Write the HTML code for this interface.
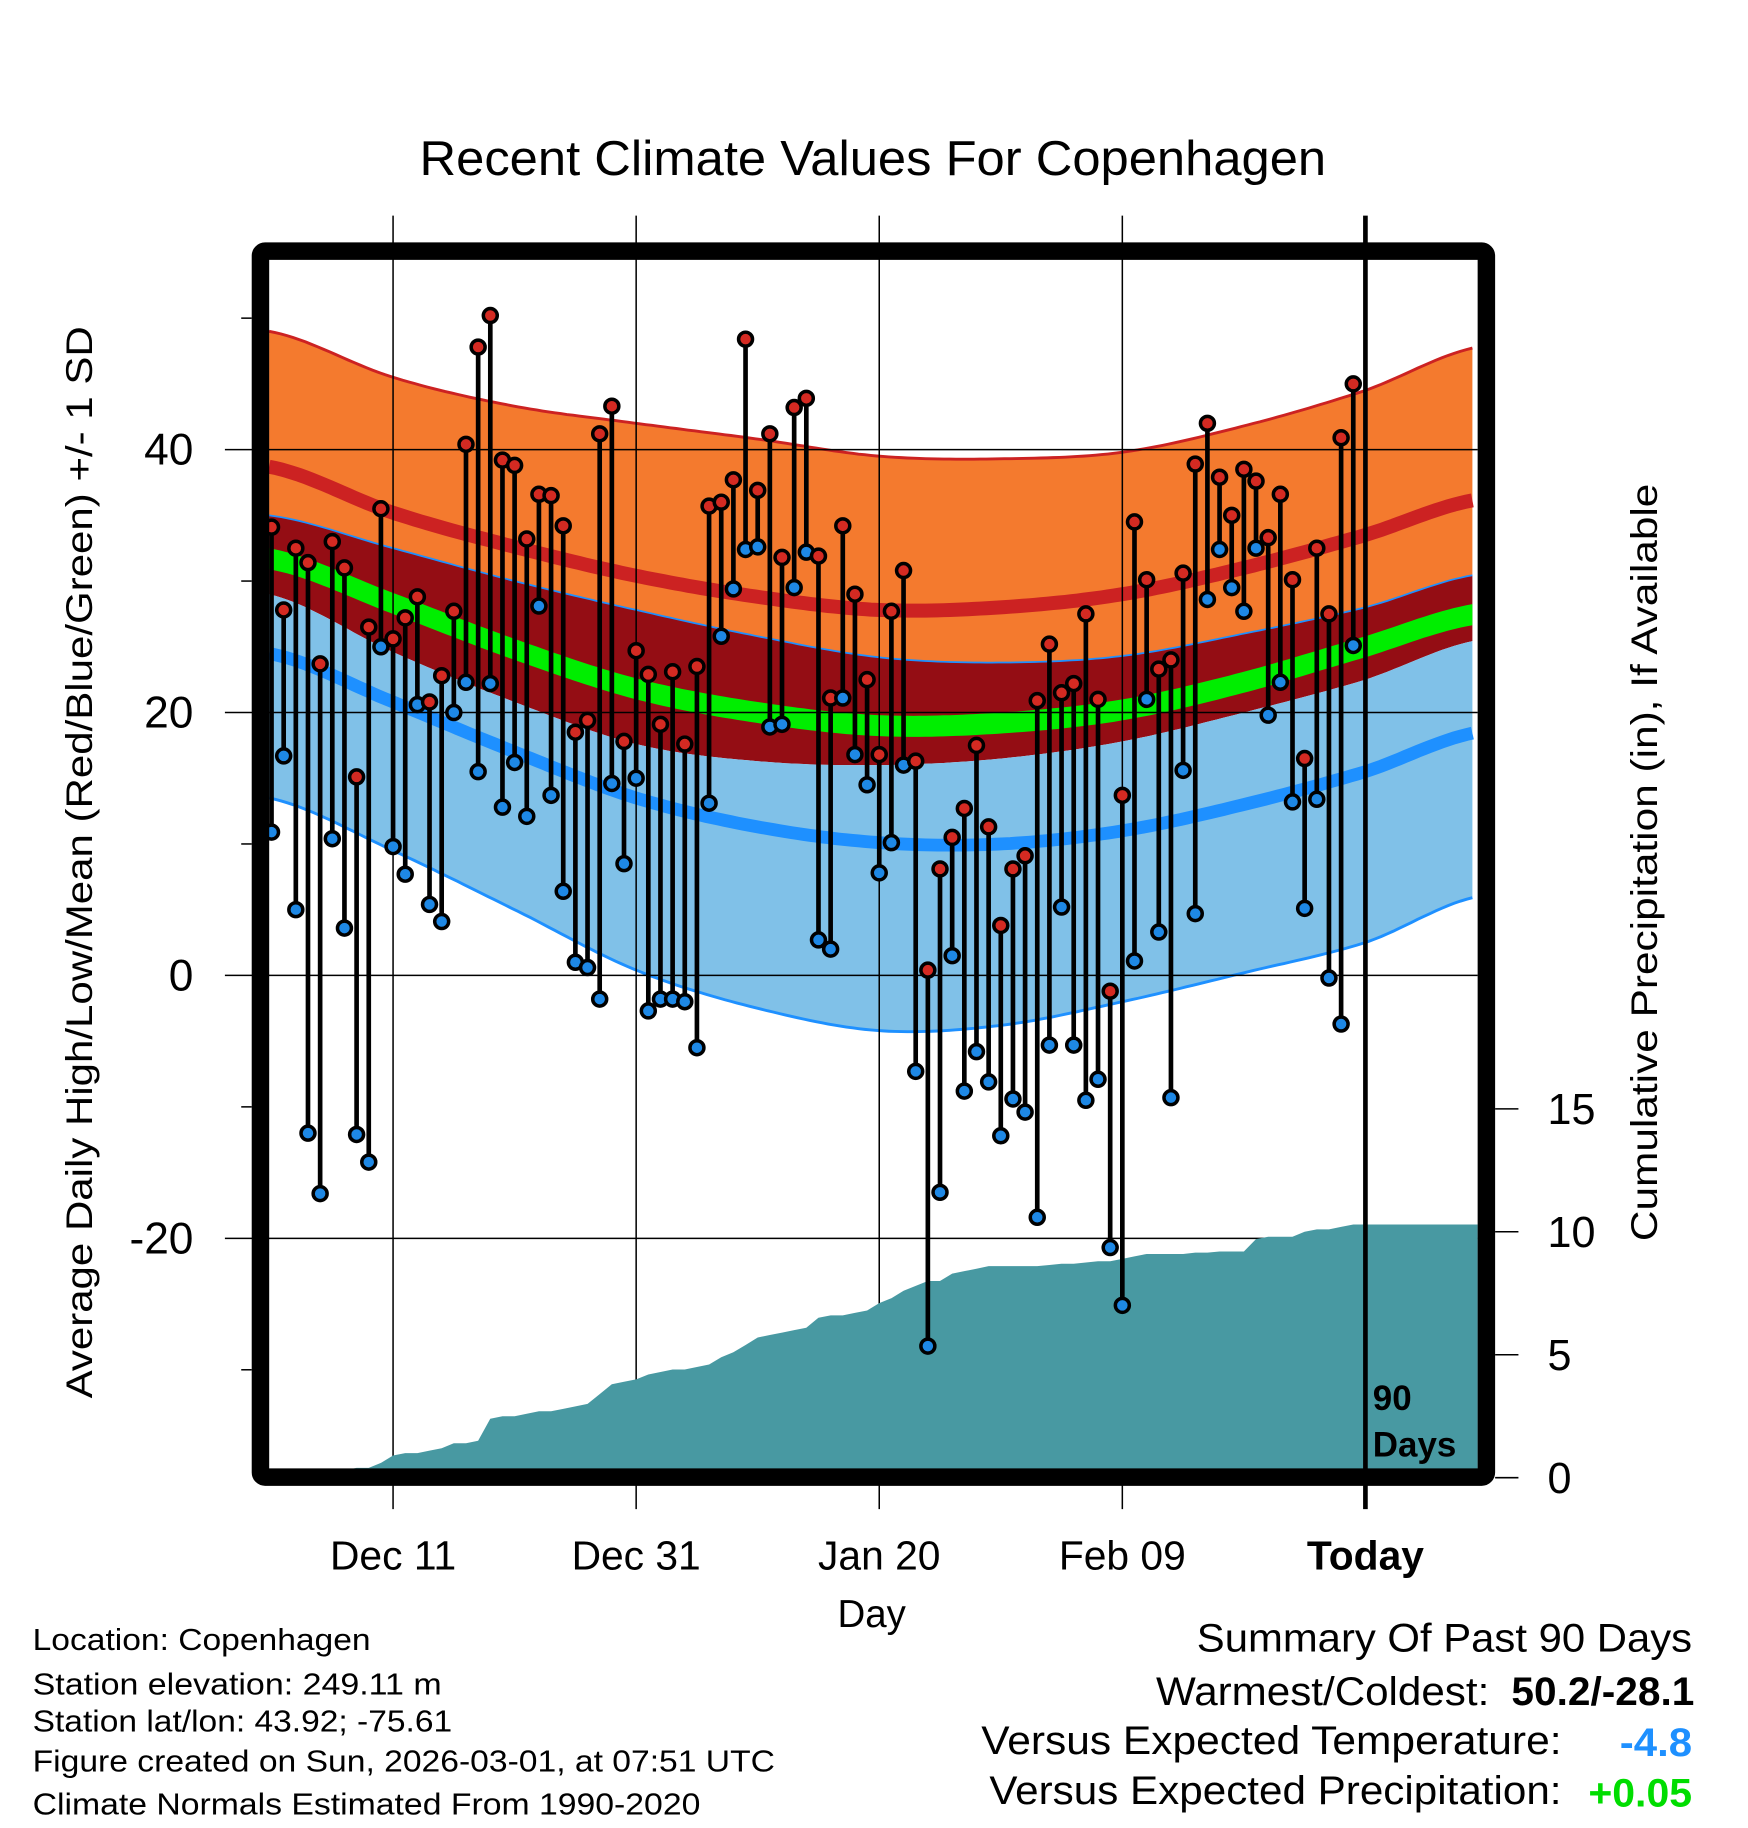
<!DOCTYPE html>
<html><head><meta charset="utf-8">
<style>html,body{margin:0;padding:0;background:#fff}svg{display:block}text{font-family:"Liberation Sans",Arial,sans-serif}</style>
</head><body>
<svg id="chart" width="1748" height="1828" viewBox="0 0 1500 1568.6" preserveAspectRatio="none" xmlns="http://www.w3.org/2000/svg">
<g id="bands"></g>
<g id="grid"></g>
<g id="precip"></g>
<g id="marks"></g>
<g id="axes"></g>
<text x="749" y="150" font-size="42" text-anchor="middle" textLength="778" lengthAdjust="spacingAndGlyphs">Recent Climate Values For Copenhagen</text>
<text transform="translate(79,740) rotate(-90)" font-size="32" text-anchor="middle" textLength="920" lengthAdjust="spacingAndGlyphs">Average Daily High/Low/Mean (Red/Blue/Green) +/- 1 SD</text>
<text transform="translate(1422,740) rotate(-90)" font-size="32" text-anchor="middle" textLength="650" lengthAdjust="spacingAndGlyphs">Cumulative Precipitation (in), If Available</text>
<text x="748" y="1396" font-size="33" text-anchor="middle">Day</text>
<text x="1178" y="1210" font-size="30" font-weight="bold">90</text>
<text x="1178" y="1250" font-size="30" font-weight="bold">Days</text>
<g font-size="26">
<text x="28" y="1416" textLength="290" lengthAdjust="spacingAndGlyphs">Location: Copenhagen</text>
<text x="28" y="1454" textLength="351" lengthAdjust="spacingAndGlyphs">Station elevation: 249.11 m</text>
<text x="28" y="1486" textLength="360" lengthAdjust="spacingAndGlyphs">Station lat/lon: 43.92; -75.61</text>
<text x="28" y="1520" textLength="637" lengthAdjust="spacingAndGlyphs">Figure created on Sun, 2026-03-01, at 07:51 UTC</text>
<text x="28" y="1557" textLength="573" lengthAdjust="spacingAndGlyphs">Climate Normals Estimated From 1990-2020</text>
</g>
<g font-size="34">
<text x="1027" y="1417" textLength="425" lengthAdjust="spacingAndGlyphs">Summary Of Past 90 Days</text>
<text x="992" y="1463" textLength="286" lengthAdjust="spacingAndGlyphs">Warmest/Coldest:</text>
<text x="1297" y="1463" font-weight="bold" textLength="157" lengthAdjust="spacingAndGlyphs">50.2/-28.1</text>
<text x="842" y="1505" textLength="498" lengthAdjust="spacingAndGlyphs">Versus Expected Temperature:</text>
<text x="1390" y="1507" font-weight="bold" fill="#1E90FF" textLength="62" lengthAdjust="spacingAndGlyphs">-4.8</text>
<text x="849" y="1548" textLength="491" lengthAdjust="spacingAndGlyphs">Versus Expected Precipitation:</text>
<text x="1363" y="1550" font-weight="bold" fill="#00DD00" textLength="89" lengthAdjust="spacingAndGlyphs">+0.05</text>
</g>
</svg>
<script>
// Normal curves sampled at day indices
const normDays = [-0.2, 10, 20, 30, 40, 50, 60, 70, 80, 90, 99.2];
const highPlusSD = [49, 45.5, 43.3, 42, 40.8, 39.5, 39.3, 39.8, 41.8, 44.5, 47.8];
const highMean = [38.7, 35.2, 32.6, 30.4, 28.8, 27.8, 28, 29, 31, 33.5, 36.2];
const highMinusSD = [35, 32.5, 30, 27.8, 25.8, 24.2, 23.8, 24.3, 26, 28, 30.5];
const avgMean = [31.7, 28.3, 24.8, 21.8, 20, 19, 19.2, 20.2, 22.3, 25, 27.5];
const lowPlusSD = [29, 24.6, 20.8, 17.6, 16.3, 16, 16.5, 17.8, 20, 22.5, 25.5];
const lowMean = [24.5, 20.8, 17, 13.5, 11.3, 10.1, 10, 11, 13, 15.5, 18.5];
const lowMinusSD = [13.5, 9.5, 5, 0.4, -2.5, -4.2, -3.8, -2, 0.2, 2.5, 6];
// Daily observations (90 days)
const highs = [34.1,27.8,32.5,31.4,23.7,33,31,15.1,26.5,35.5,25.6,27.2,28.8,20.8,22.8,27.7,40.4,47.8,50.2,39.2,38.8,33.2,36.6,36.5,34.2,18.5,19.4,41.2,43.3,17.8,24.7,22.9,19.1,23.1,17.6,23.5,35.7,36,37.7,48.4,36.9,41.2,31.8,43.2,43.9,31.9,21.1,34.2,29,22.5,16.8,27.7,30.8,16.3,0.4,8.1,10.5,12.7,17.5,11.3,3.8,8.1,9.1,20.9,25.2,21.5,22.2,27.5,21,-1.2,13.7,34.5,30.1,23.3,24,30.6,38.9,42,37.9,35,38.5,37.6,33.3,36.6,30.1,16.5,32.5,27.5,40.9,45];
const lows = [10.9,16.7,5,-12,-16.6,10.4,3.6,-12.1,-14.2,25,9.8,7.7,20.6,5.4,4.1,20,22.3,15.5,22.2,12.8,16.2,12.1,28.1,13.7,6.4,1,0.6,-1.8,14.6,8.5,15,-2.7,-1.8,-1.8,-2,-5.5,13.1,25.8,29.4,32.4,32.6,18.9,19.1,29.5,32.2,2.7,2,21.1,16.8,14.5,7.8,10.1,16,-7.3,-28.2,-16.5,1.5,-8.8,-5.8,-8.1,-12.2,-9.4,-10.4,-18.4,-5.3,5.2,-5.3,-9.5,-7.9,-20.7,-25.1,1.1,21,3.3,-9.3,15.6,4.7,28.6,32.4,29.5,27.7,32.5,19.8,22.3,13.2,5.1,13.4,-0.2,-3.7,25.1];
const precipCum = [0,0,0,0,0.05,0.2,0.3,0.4,0.4,0.6,0.9,1.0,1.0,1.1,1.2,1.4,1.4,1.5,2.4,2.5,2.5,2.6,2.7,2.7,2.8,2.9,3.0,3.4,3.8,3.9,4.0,4.2,4.3,4.4,4.4,4.5,4.6,4.9,5.1,5.4,5.7,5.8,5.9,6.0,6.1,6.5,6.6,6.6,6.7,6.8,7.1,7.3,7.6,7.8,8.0,8.0,8.3,8.4,8.5,8.6,8.6,8.6,8.6,8.6,8.65,8.7,8.7,8.75,8.8,8.8,8.9,9.0,9.1,9.1,9.1,9.1,9.15,9.15,9.2,9.2,9.2,9.7,9.8,9.8,9.8,10.0,10.1,10.1,10.2,10.3];
const xTickLabels = ["Dec 11","Dec 31","Jan 20","Feb 09","Today"];
const xTickDays = [10,30,50,70,90];
const yTickLabels = [40,20,0,-20];
const yMinorTicks = [50,30,10,-10,-30];
const pTicks = [0,5,10,15];

const NS="http://www.w3.org/2000/svg";
const PL=231,PR=1268,PT=223,PB=1260;
const xs = d => 233 + d*10.43;
const ys = v => 837 - v*11.28;
const yp = p => 1268 - p*21.1;
function mk(tag, attrs, parent){const e=document.createElementNS(NS,tag);for(const k in attrs)e.setAttribute(k,attrs[k]);parent.appendChild(e);return e;}
function interp(arr,d){
  const n=normDays.length;
  let i=0; while(i<n-2 && d>normDays[i+1]) i++;
  const t=(d-normDays[i])/(normDays[i+1]-normDays[i]);
  const p0=arr[Math.max(i-1,0)],p1=arr[i],p2=arr[i+1],p3=arr[Math.min(i+2,n-1)];
  const t2=t*t,t3=t2*t;
  return 0.5*((2*p1)+(-p0+p2)*t+(2*p0-5*p1+4*p2-p3)*t2+(-p0+3*p1-3*p2+p3)*t3);
}
const dd=[];for(let d=-0.2; d<=99.21; d+=0.5) dd.push(d);
function linePts(arr,off){return dd.map(d=>xs(d).toFixed(1)+','+ys(interp(arr,d)+(off||0)).toFixed(1));}
function bandPath(a,b,oa,ob){const top=linePts(a,oa);const bot=linePts(b,ob).reverse();return 'M'+top.join('L')+'L'+bot.join('L')+'Z';}

const bands=document.getElementById('bands');
let el;
el=mk('path',{d:bandPath(highPlusSD,highMinusSD),fill:'#F47A2E'},bands);


el=mk('path',{d:bandPath(highMinusSD,lowPlusSD),fill:'#940D14'},bands);


el=mk('path',{d:bandPath(lowPlusSD,lowMinusSD),fill:'#80C1E8'},bands);


el=mk('path',{d:bandPath(avgMean,avgMean,0.8,-0.8),fill:'#00EE00'},bands);


el=mk('polyline',{points:linePts(highMean).join(' '),fill:'none',stroke:'#CC2222','stroke-width':12},bands);


el=mk('polyline',{points:linePts(lowMean).join(' '),fill:'none',stroke:'#1E90FF','stroke-width':11},bands);


el=mk('polyline',{points:linePts(highPlusSD).join(' '),fill:'none',stroke:'#CC2222','stroke-width':2.5},bands);


el=mk('polyline',{points:linePts(highMinusSD).join(' '),fill:'none',stroke:'#1E90FF','stroke-width':1.5},bands);


el=mk('polyline',{points:linePts(lowMinusSD).join(' '),fill:'none',stroke:'#1E90FF','stroke-width':2.5},bands);



const grid=document.getElementById('grid');
xTickDays.forEach((d,i)=>{
  if(i===xTickDays.length-1) return;
  const g=mk('line',{x1:xs(d),x2:xs(d),y1:185,y2:1295,stroke:'#000','stroke-width':1.3},grid);
  
  
});
yTickLabels.forEach(v=>{
  const g=mk('line',{x1:193,x2:PR,y1:ys(v),y2:ys(v),stroke:'#000','stroke-width':1.3},grid);
  
  
});

const pg=document.getElementById('precip');
let pp='M'+xs(-0.2)+','+yp(0);
precipCum.forEach((p,i)=>{pp+='L'+xs(i).toFixed(1)+','+yp(p).toFixed(1);});
pp+='L'+PR+','+yp(precipCum[precipCum.length-1]).toFixed(1)+'L'+PR+','+yp(0)+'Z';
el=mk('path',{d:pp,fill:'#4899A2'},pg);



const marks=document.getElementById('marks');
highs.forEach((h,i)=>{
  const x=xs(i);
  const s=mk('line',{x1:x,x2:x,y1:ys(h),y2:ys(lows[i]),stroke:'#000','stroke-width':4},marks);
  
  
});
highs.forEach((h,i)=>{
  const x=xs(i);
  const lo=mk('circle',{cx:x,cy:ys(lows[i]),r:6,fill:'#1E88E5',stroke:'#000','stroke-width':3},marks);
  
  
  const hi=mk('circle',{cx:x,cy:ys(h),r:6,fill:'#D42A22',stroke:'#000','stroke-width':3},marks);
  
  
});

const axes=document.getElementById('axes');
el=mk('line',{x1:xs(90),x2:xs(90),y1:185,y2:1295,stroke:'#000','stroke-width':4},axes);


el=mk('rect',{x:223.5,y:215.5,width:1052,height:1052,fill:'none',stroke:'#000','stroke-width':15,rx:4},axes);


xTickLabels.forEach((t,i)=>{
  const tx=mk('text',{x:xs(xTickDays[i]),y:1347,'font-size':35,'text-anchor':'middle'},axes);
  if(i===xTickLabels.length-1) tx.setAttribute('font-weight','bold');
  tx.textContent=t;
  
  
});
yTickLabels.forEach(v=>{
  const tx=mk('text',{x:166,y:ys(v)+13,'font-size':38,'text-anchor':'end'},axes);
  tx.textContent=String(v);
  
  
});
yMinorTicks.forEach(v=>{
  const tk=mk('line',{x1:207,x2:216,y1:ys(v),y2:ys(v),stroke:'#000','stroke-width':1.3},axes);
  
  
});
pTicks.forEach(p=>{
  const tk=mk('line',{x1:1283,x2:1303,y1:yp(p),y2:yp(p),stroke:'#000','stroke-width':1.3},axes);
  
  
  const tx=mk('text',{x:1328,y:yp(p)+13,'font-size':37},axes);
  tx.textContent=String(p);
  
  
});
</script>
</body></html>
